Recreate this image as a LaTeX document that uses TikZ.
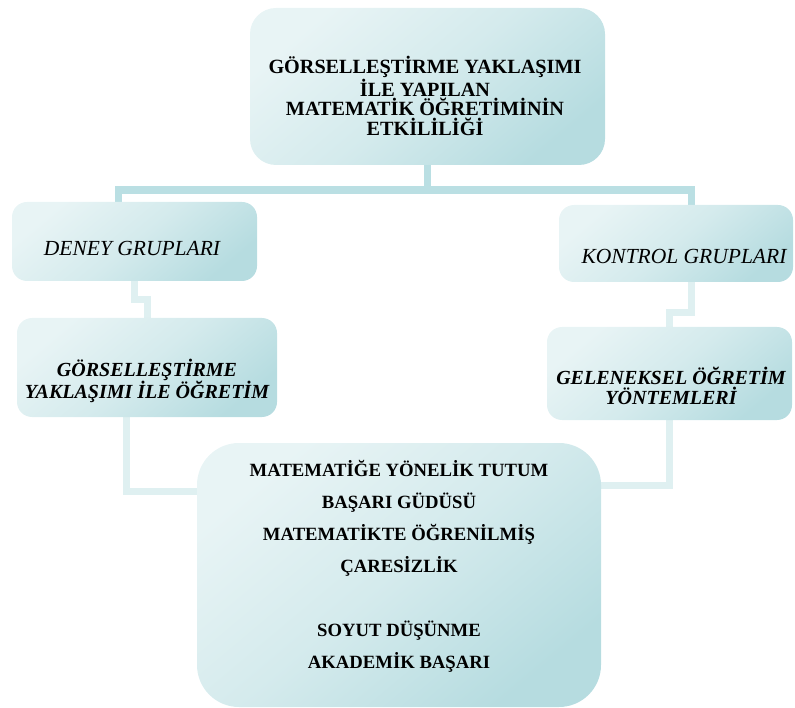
\documentclass[tikz,border=0pt]{standalone}
\usepackage{fontspec}
\setmainfont{Liberation Serif}
\pgfdeclarelayer{background}
\pgfsetlayers{background,main}
\definecolor{boxlight}{HTML}{E8F4F5}
\definecolor{boxdark}{HTML}{B6DCE0}
\definecolor{busline}{HTML}{BADFE3}
\definecolor{linkline}{HTML}{DFF0F1}
\begin{document}
\begin{tikzpicture}[x=1pt,y=-1pt,
  card/.style={rectangle, rounded corners=#1, inner sep=0pt,
    top color=boxlight, bottom color=boxdark, middle color=boxlight!60!boxdark,
    shading angle=40},
  card/.default=15pt,
  headtxt/.style={align=center, inner sep=0pt,
    font=\fontsize{20.2}{19.7}\selectfont\bfseries},
  grouptxt/.style={inner sep=0pt, font=\fontsize{21.5}{24}\selectfont\itshape},
  methodtxt/.style={align=center, inner sep=0pt,
    font=\fontsize{20}{20.5}\selectfont\bfseries\itshape},
  resulttxt/.style={align=center, inner sep=0pt,
    font=\fontsize{18.7}{32}\selectfont\bfseries},
  bus/.style={draw=busline, line width=7.5pt},
  link/.style={draw=linkline, line width=7pt}]

\useasboundingbox (0,0) rectangle (795,708);

% boxes
\node[card=26pt, minimum width=355pt, minimum height=157pt] (top) at (427.5,86.5) {};
\node[card, minimum width=245pt, minimum height=79pt] (deney) at (134.5,241.5) {};
\node[card, minimum width=260pt, minimum height=99pt] (gors) at (147,367.5) {};
\node[card, minimum width=234pt, minimum height=77pt] (kontrol) at (676,243.5) {};
\node[card, minimum width=245pt, minimum height=93pt] (gelen) at (669.5,373.5) {};
\node[card=42pt, minimum width=404pt, minimum height=264pt] (sonuc) at (399,575) {};

% texts
\node[headtxt] (topT) at (425,96) {GÖRSELLEŞTİRME YAKLAŞIMI\\İLE YAPILAN\\MATEMATİK ÖĞRETİMİNİN\\ETKİLİLİĞİ};
\node[grouptxt, anchor=base] (deneyT) at (132,256) {DENEY GRUPLARI};
\node[grouptxt, anchor=base] (kontrolT) at (684,264) {KONTROL GRUPLARI};
\node[methodtxt] (gorsT) at (147,381) {GÖRSELLEŞTİRME\\YAKLAŞIMI İLE ÖĞRETİM};
\node[methodtxt] (gelenT) at (671,386) {GELENEKSEL ÖĞRETİM\\YÖNTEMLERİ};
\node[resulttxt] (sonucT) at (399,566) {MATEMATİĞE YÖNELİK TUTUM\\BAŞARI GÜDÜSÜ\\MATEMATİKTE ÖĞRENİLMİŞ\\ÇARESİZLİK\\[32pt]SOYUT DÜŞÜNME\\AKADEMİK BAŞARI};

% connectors
\coordinate (busL) at (118.5,190);
\coordinate (busR) at (691.5,190);
\coordinate (hub) at (top.south |- busL);
\coordinate (jL) at (126,491);
\coordinate (jR) at (669.5,485);
\begin{pgfonlayer}{background}
  \draw[bus] (top.south) -- (hub);
  \draw[bus] (busL |- deney.north) -- (busL) -- (busR) -- (busR |- kontrol.north);
  \draw[link] (deney.south) -- ++(0,18.5) -| (gors.north);
  \draw[link] (busR |- kontrol.south) -- ++(0,30.5) -| (gelen.north);
  \draw[link] (jL |- gors.south) -- (jL) -- (jL -| sonuc.west);
  \draw[link] (gelen.south) -- (jR) -- (jR -| sonuc.east);
\end{pgfonlayer}
\end{tikzpicture}
\end{document}
